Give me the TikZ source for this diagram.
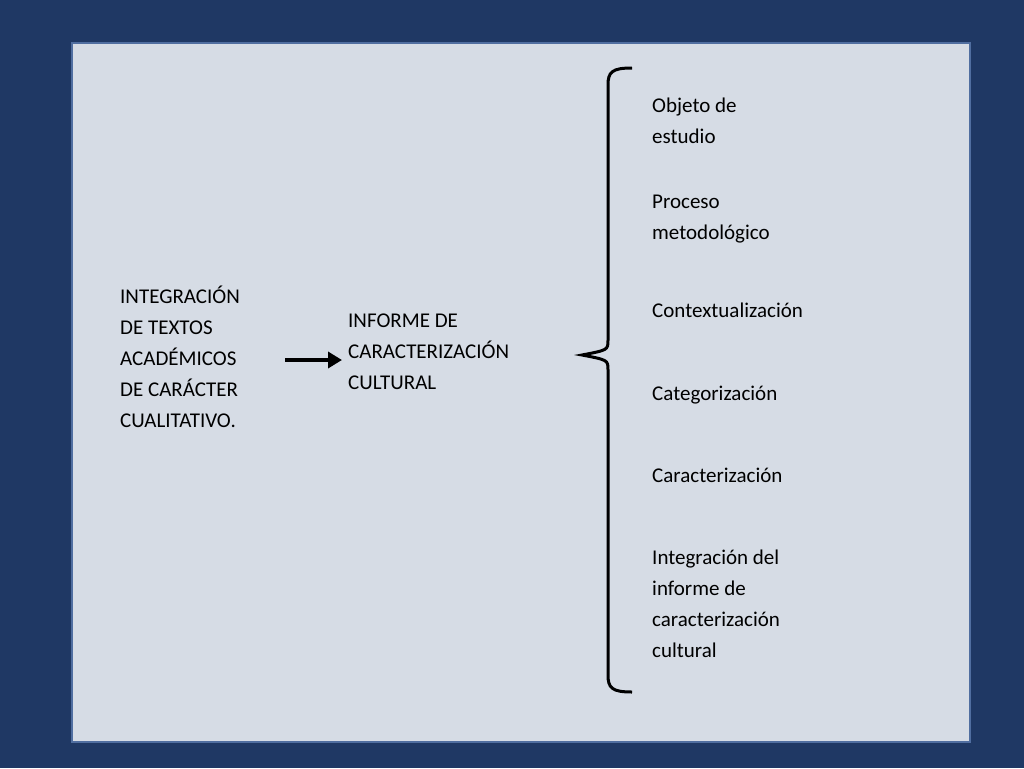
\documentclass[tikz,border=0pt]{standalone}
\usepackage{fontspec}
\setmainfont{Carlito}
\usetikzlibrary{arrows.meta}
\definecolor{bgblue}{RGB}{31,56,100}
\definecolor{panel}{RGB}{214,220,229}
\definecolor{edge}{RGB}{80,110,160}
\begin{document}
\begin{tikzpicture}[x=1pt,y=-1pt,
  lbl/.style={anchor=north west,inner sep=0pt,align=left,font=\fontsize{21}{31}\selectfont,text=black}]
\useasboundingbox (0,0) rectangle (1024,768);
\fill[bgblue] (0,0) rectangle (1024,768);
\draw[edge,fill=panel,line width=1.5pt] (72,43) rectangle (970,742);
\node[lbl] (a) at (120,286) {INTEGRACIÓN\\DE TEXTOS\\ACADÉMICOS\\DE CARÁCTER\\CUALITATIVO.};
\node[lbl] (b) at (348,314) {INFORME DE\\CARACTERIZACIÓN\\CULTURAL};
\coordinate (as) at (285,360);
\coordinate (ae) at (342,360);
\draw[line width=3.5pt,-{Triangle[length=14pt,width=16pt]}] (as) -- (ae);
\draw[line width=3pt] (632,68) .. controls (612,68) and (608,72) .. (608,85)
  -- (608,340) .. controls (608,350) .. (582,355) .. controls (608,360) .. (608,370)
  -- (608,675) .. controls (608,688) and (612,692) .. (632,692);
\node[lbl] (c1) at (652,98) {Objeto de\\estudio};
\node[lbl] (c2) at (652,195) {Proceso\\metodológico};
\node[lbl] (c3) at (652,303) {Contextualización};
\node[lbl] (c4) at (652,386) {Categorización};
\node[lbl] (c5) at (652,468) {Caracterización};
\node[lbl] (c6) at (652,550) {Integración del\\informe de\\caracterización\\cultural};
\end{tikzpicture}
\end{document}
